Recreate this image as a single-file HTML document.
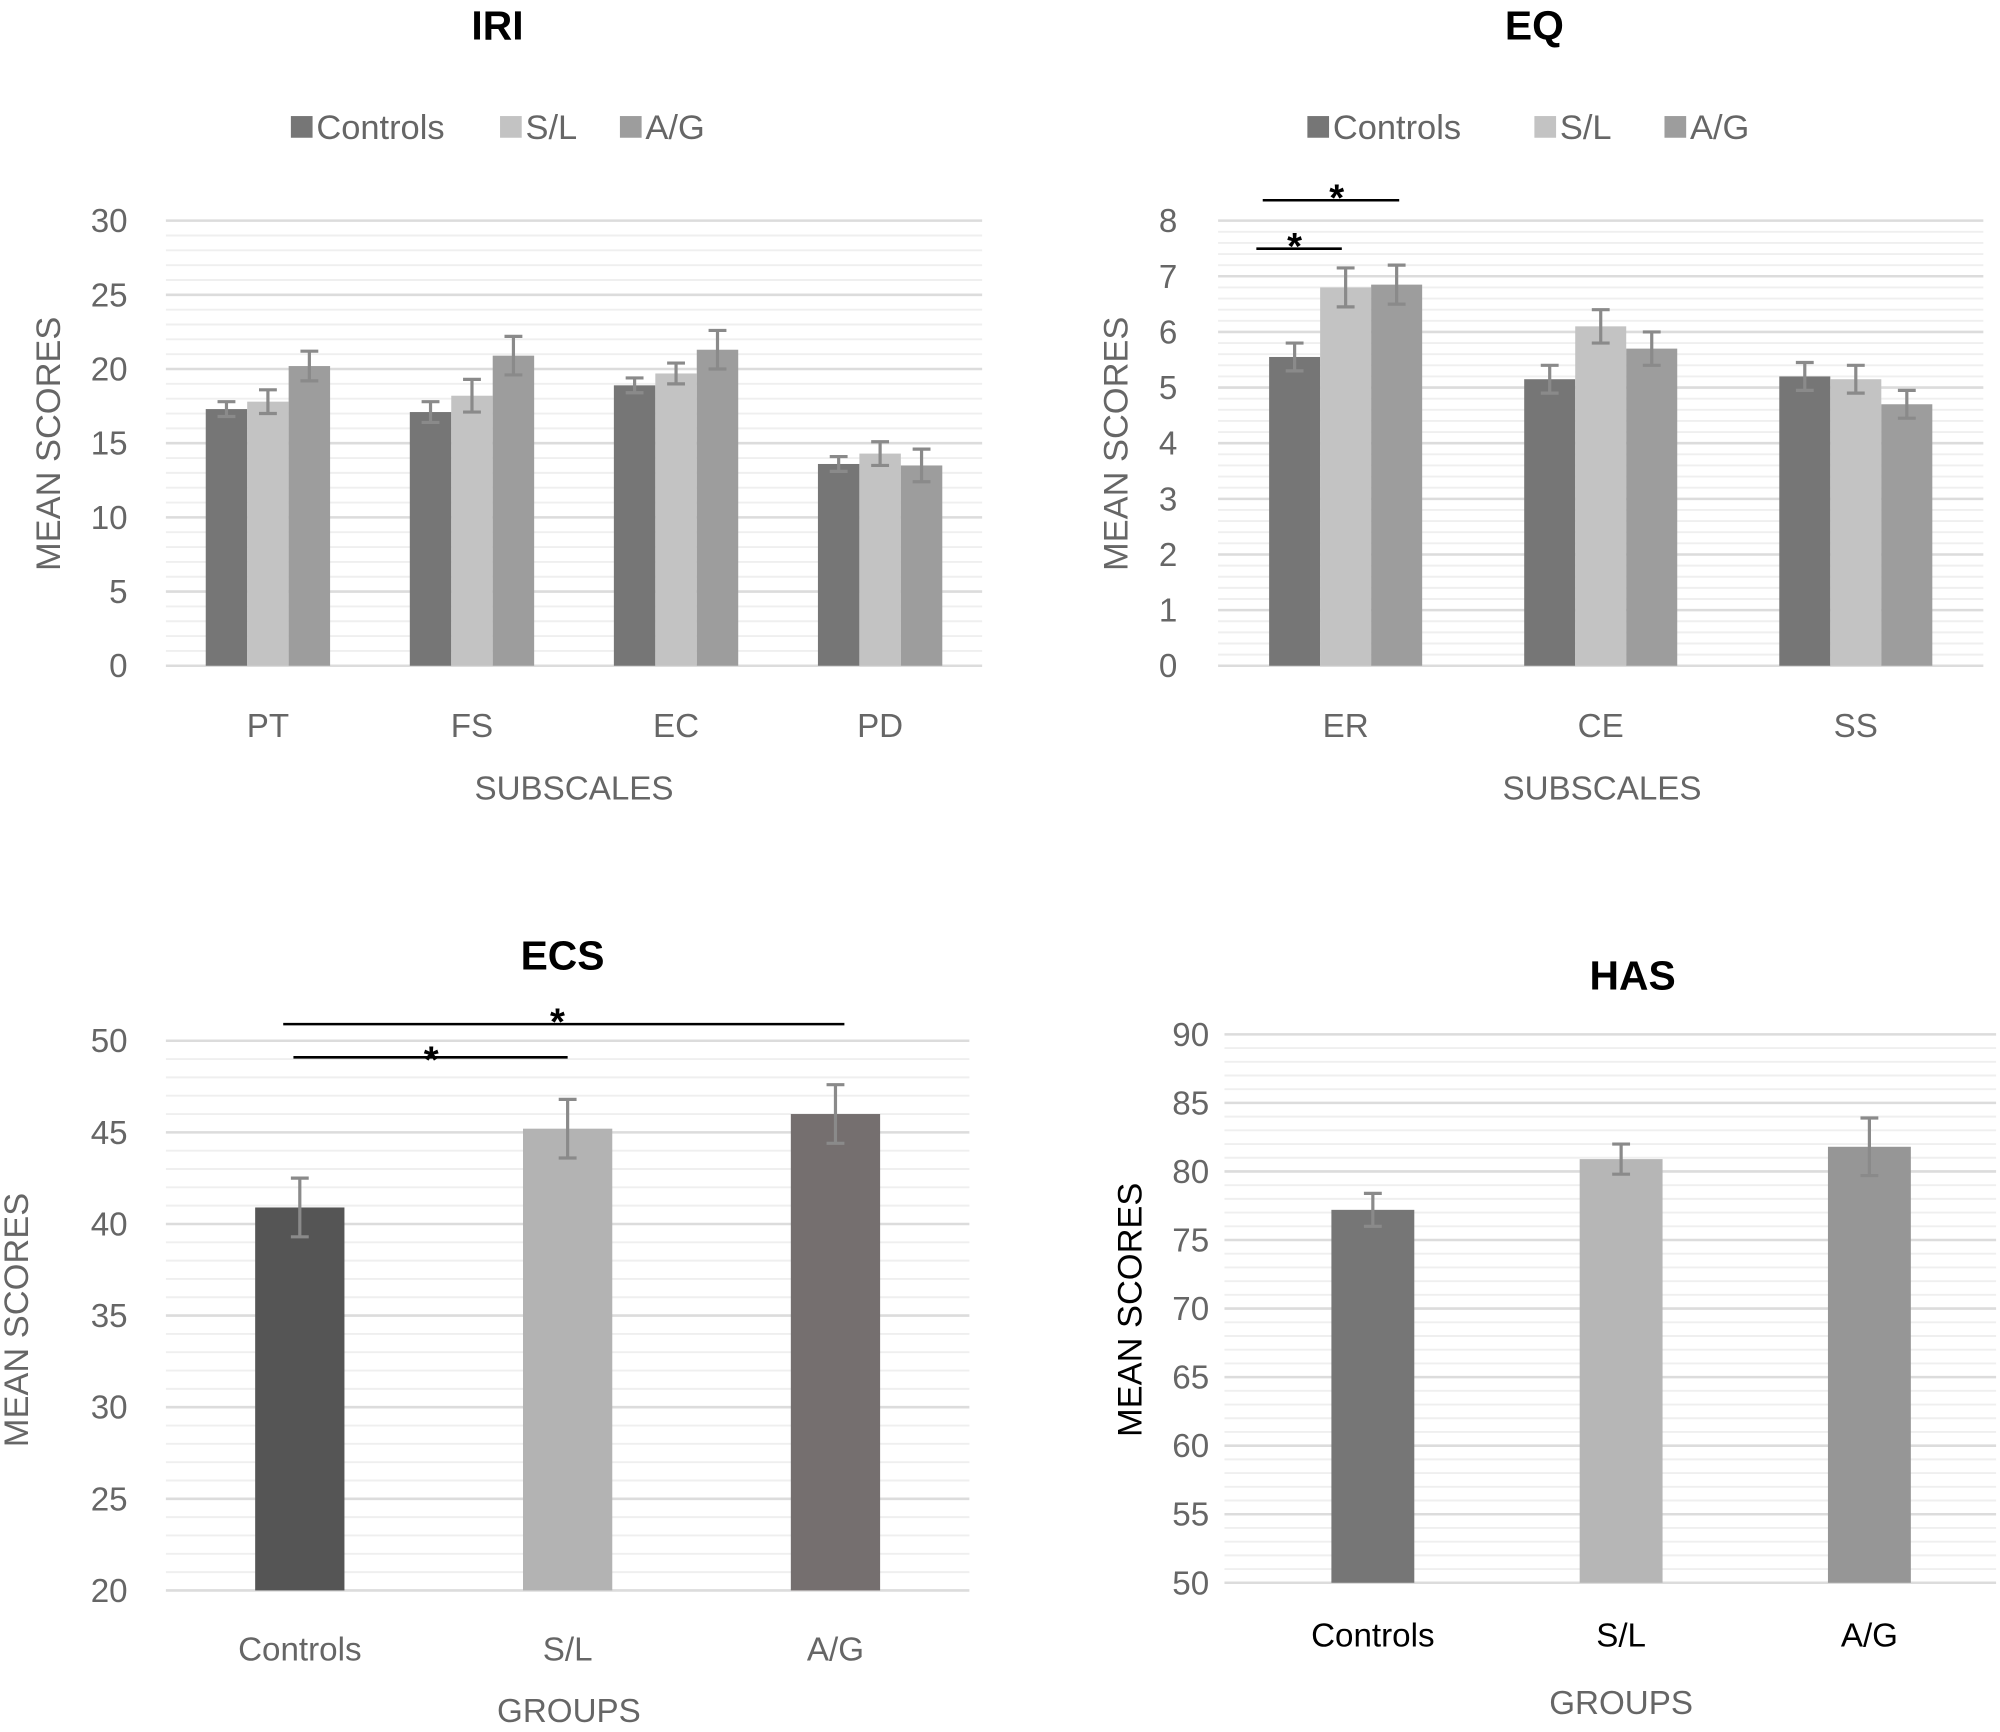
<!DOCTYPE html>
<html><head><meta charset="utf-8"><style>
html,body{margin:0;padding:0;background:#fff;}
svg{display:block;font-family:"Liberation Sans",sans-serif;}
</style></head><body>
<svg id="fig" width="2000" height="1732" viewBox="0 0 1568 1358"></svg>
<script>
// ---- data ----
const iriCats=["PT","FS","EC","PD"];
const iriControls=[17.3,17.1,18.9,13.6];
const iriSL=[17.8,18.2,19.7,14.3];
const iriAG=[20.2,20.9,21.3,13.5];
const iriErrC=[0.5,0.7,0.5,0.5];
const iriErrS=[0.8,1.1,0.7,0.8];
const iriErrA=[1.0,1.3,1.3,1.1];
const iriTicks=[0,5,10,15,20,25,30];

const eqCats=["ER","CE","SS"];
const eqControls=[5.55,5.15,5.2];
const eqSL=[6.8,6.1,5.15];
const eqAG=[6.85,5.7,4.7];
const eqErrC=[0.25,0.25,0.25];
const eqErrS=[0.35,0.3,0.25];
const eqErrA=[0.35,0.3,0.25];
const eqTicks=[0,1,2,3,4,5,6,7,8];

const ecsCats=["Controls","S/L","A/G"];
const ecsVals=[40.9,45.2,46.0];
const ecsErr=[1.6,1.6,1.6];
const ecsTicks=[20,25,30,35,40,45,50];

const hasCats=["Controls","S/L","A/G"];
const hasVals=[77.2,80.9,81.8];
const hasErr=[1.2,1.1,2.1];
const hasTicks=[50,55,60,65,70,75,80,85,90];

const NS="http://www.w3.org/2000/svg";
const svg=document.getElementById('fig');
function el(tag,attrs,parent,text){const e=document.createElementNS(NS,tag);for(const k in attrs)e.setAttribute(k,attrs[k]);if(text!==undefined)e.textContent=text;(parent||svg).appendChild(e);return e;}

function chart(o){
  const g=el('g',{});
  
  
  const tmin=o.ticks[0],tmax=o.ticks[o.ticks.length-1];
  const y=v=>o.y0+(v-tmin)/(tmax-tmin)*(o.y1-o.y0);
  const step=o.ticks[1]-o.ticks[0];
  for(let i=0;i<o.ticks.length-1;i++){for(let m=1;m<5;m++){const v=o.ticks[i]+step*m/5;
    const l=el('line',{x1:o.x0,x2:o.x1,y1:y(v),y2:y(v),stroke:'#efefef','stroke-width':1.5},g);
    }}
  o.ticks.forEach(t=>{
    const l=el('line',{x1:o.x0,x2:o.x1,y1:y(t),y2:y(t),stroke:'#dcdcdc','stroke-width':2},g);
    
    const tx=el('text',{x:o.tickX,y:y(t)+9,'text-anchor':'end','font-size':26,fill:'#666'},g,String(t));
    
  });
  const cx0=o.cx0!==undefined?o.cx0:o.x0, cx1=o.cx1!==undefined?o.cx1:o.x1;
  const n=o.cats.length, gw=(cx1-cx0)/n;
  o.cats.forEach((c,i)=>{
    const cx=cx0+gw*(i+0.5);
    const tx=el('text',{x:cx,y:o.catY,'text-anchor':'middle','font-size':26,fill:o.catColor||'#666'},g,c);
    
    const ns=o.series.length;
    o.series.forEach((s,j)=>{
      const bx=cx-o.bw*ns/2+j*o.bw, v=s.vals[i], e=s.err[i];
      const r=el('rect',{x:bx,y:y(v),width:o.bw,height:o.y0-y(v),fill:s.colors?s.colors[i]:s.color},g);
      
      const ex=bx+o.bw/2;
      const eb=el('path',{d:`M${ex} ${y(v-e)}V${y(v+e)}M${ex-7} ${y(v-e)}H${ex+7}M${ex-7} ${y(v+e)}H${ex+7}`,stroke:'#8a8a8a','stroke-width':2.5,fill:'none'},g);
      
    });
  });
  const tt=el('text',{x:o.titleX,y:o.titleY,'text-anchor':'middle','font-size':32,'font-weight':'bold',fill:'#000'},g,o.title);
  
  const yt=el('text',{x:0,y:0,'text-anchor':'middle','font-size':27,fill:o.yColor||'#666',transform:`translate(${o.yTitleX},${o.yTitleY}) rotate(-90)`},g,'MEAN SCORES');
  
  const xt=el('text',{x:o.xTitleX,y:o.xTitleY,'text-anchor':'middle','font-size':26,fill:'#666'},g,o.xTitle);
  
  if(o.legend){o.legend.forEach(L=>{
    const r=el('rect',{x:L.x,y:91,width:17,height:17,fill:L.color},g);
    
    const t=el('text',{x:L.x+20,y:109,'font-size':27,fill:'#666'},g,L.label);
    
  });}
  (o.sig||[]).forEach(s=>{
    const l=el('line',{x1:s.a,x2:s.b,y1:s.y,y2:s.y,stroke:'#000','stroke-width':2},g);
    
    const t=el('text',{x:s.sx,y:s.y+(s.dy||12),'text-anchor':'middle','font-size':30,'font-weight':'bold',fill:'#000'},g,'*');
    
  });
}
chart({name:'iri-chart',title:'IRI',titleX:390,titleY:31,x0:130,x1:770,y0:522,y1:173,ticks:iriTicks,tickX:100,cats:iriCats,catY:578,bw:32.5,
  series:[{key:'controls',vals:iriControls,err:iriErrC,color:'#767676'},{key:'sl',vals:iriSL,err:iriErrS,color:'#c3c3c3'},{key:'ag',vals:iriAG,err:iriErrA,color:'#9d9d9d'}],
  yTitleX:47,yTitleY:348,xTitle:'SUBSCALES',xTitleX:450,xTitleY:627,
  legend:[{x:228,color:'#767676',label:'Controls'},{x:392,color:'#c3c3c3',label:'S/L'},{x:486,color:'#9d9d9d',label:'A/G'}]});
chart({name:'eq-chart',title:'EQ',titleX:1203,titleY:31,x0:955,x1:1555,y0:522,y1:173,ticks:eqTicks,tickX:923,cats:eqCats,catY:578,bw:40,
  series:[{key:'controls',vals:eqControls,err:eqErrC,color:'#767676'},{key:'sl',vals:eqSL,err:eqErrS,color:'#c3c3c3'},{key:'ag',vals:eqAG,err:eqErrA,color:'#9d9d9d'}],
  yTitleX:884,yTitleY:348,xTitle:'SUBSCALES',xTitleX:1256,xTitleY:627,
  legend:[{x:1025,color:'#767676',label:'Controls'},{x:1203,color:'#c3c3c3',label:'S/L'},{x:1305,color:'#9d9d9d',label:'A/G'}],
  sig:[{a:990,b:1097,y:157,sx:1048,dy:8},{a:985,b:1052,y:195,sx:1015,dy:8}]});
chart({name:'ecs-chart',title:'ECS',titleX:441,titleY:760,x0:130,x1:760,y0:1247,y1:816,ticks:ecsTicks,tickX:100,cats:ecsCats,catY:1302,bw:70,
  series:[{key:'mean',vals:ecsVals,err:ecsErr,colors:['#555555','#b3b3b3','#756f6f']}],
  yTitleX:22,yTitleY:1035,xTitle:'GROUPS',xTitleX:446,xTitleY:1350,
  sig:[{a:222,b:662,y:803,sx:437,dy:8},{a:230,b:445,y:829,sx:338,dy:12}]});
chart({name:'has-chart',title:'HAS',titleX:1280,titleY:776,x0:960,x1:1565,cx0:979,cx1:1563,y0:1241,y1:811,ticks:hasTicks,tickX:948,cats:hasCats,catY:1291,bw:65,catColor:'#000',yColor:'#000',
  series:[{key:'mean',vals:hasVals,err:hasErr,colors:['#767676','#b6b6b6','#969696']}],
  yTitleX:895,yTitleY:1027,xTitle:'GROUPS',xTitleX:1271,xTitleY:1344});
</script>
</body></html>
